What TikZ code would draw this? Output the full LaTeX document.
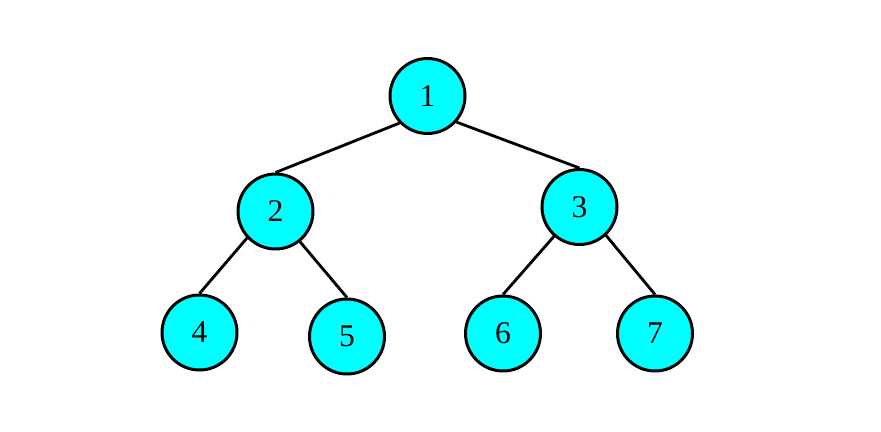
\documentclass[tikz,border=0pt]{standalone}
\usepackage{fontspec}
\setmainfont{Liberation Serif}
\definecolor{nodecyan}{RGB}{0,255,255}

\begin{document}
\begin{tikzpicture}[x=0.02cm, y=-0.02cm,
    every node/.style={font=\fontsize{18}{20}\selectfont},
    treenode/.style={circle, draw=black, fill=nodecyan, line width=1.7pt,
      minimum size=1.5cm, inner sep=0pt},
    treeedge/.style={line width=1.6pt}]
    % Keep the reference margins
    \useasboundingbox (0,0) rectangle (881,432);

    % Root
    \node[treenode] (n1) at (427.5,96) {1};

    % Second level
    \node[treenode] (n2) at (275.5,211.5) {2};
    \node[treenode] (n3) at (579.5,207) {3};

    % Leaves
    \node[treenode] (n4) at (199.5,332.5) {4};
    \node[treenode] (n5) at (347,336.5) {5};
    \node[treenode] (n6) at (503,333.5) {6};
    \node[treenode] (n7) at (655,333.5) {7};

    % Edges from parent down to child top
    \draw[treeedge] (n1.-136) -- (n2.north);
    \draw[treeedge] (n1.-42) -- (n3.north);
    \draw[treeedge] (n2.-137) -- (n4.north);
    \draw[treeedge] (n2.-51) -- (n5.north);
    \draw[treeedge] (n3.-131) -- (n6.north);
    \draw[treeedge] (n3.-47) -- (n7.north);
  \end{tikzpicture}
\end{document}
